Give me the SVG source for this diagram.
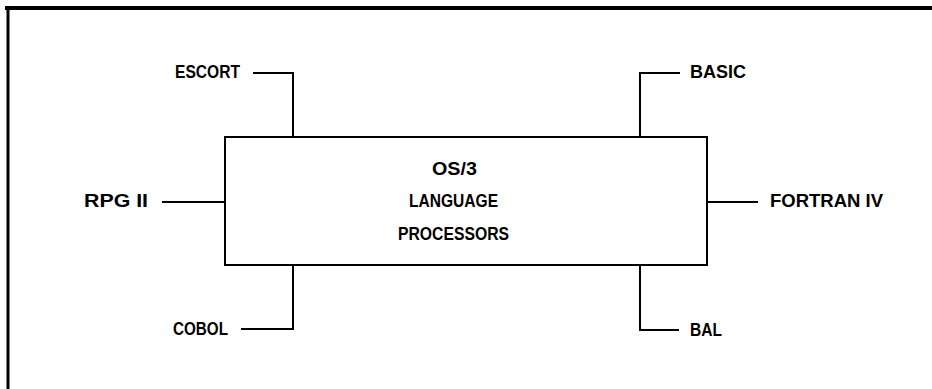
<svg xmlns="http://www.w3.org/2000/svg" width="932" height="389" viewBox="0 0 932 389">
<style>
.t{font-family:"Liberation Sans",Arial,sans-serif;font-weight:bold;font-size:18px;fill:#000}
.ln{stroke:#000;stroke-width:2;fill:none}
</style>
<rect width="932" height="389" fill="#fff"/>
<g id="frame">
<path d="M5 8 H932" stroke="#000" stroke-width="4" fill="none"/>
<path d="M8 6 V389" stroke="#000" stroke-width="3" fill="none"/>
</g>
<g id="connectors">
<path class="ln" d="M253 73 H293 V137"/>
<path class="ln" d="M680 73 H640 V137"/>
<path class="ln" d="M162 202 H225"/>
<path class="ln" d="M707 202 H758"/>
<path class="ln" d="M241 329 H293 V265"/>
<path class="ln" d="M679 330 H640 V265"/>
</g>
<g id="processors">
<rect class="ln" x="225" y="137" width="482" height="128"/>
<text class="t" x="432" y="175" textLength="45" lengthAdjust="spacingAndGlyphs">OS/3</text>
<text class="t" x="409" y="207" textLength="89" lengthAdjust="spacingAndGlyphs">LANGUAGE</text>
<text class="t" x="398" y="240" textLength="111" lengthAdjust="spacingAndGlyphs">PROCESSORS</text>
</g>
<g id="escort"><text class="t" x="175" y="78" textLength="65" lengthAdjust="spacingAndGlyphs">ESCORT</text></g>
<g id="basic"><text class="t" x="690" y="78" textLength="56" lengthAdjust="spacingAndGlyphs">BASIC</text></g>
<g id="rpg2"><text class="t" x="84" y="207" textLength="64" lengthAdjust="spacingAndGlyphs">RPG II</text></g>
<g id="fortran4"><text class="t" x="770" y="207" textLength="113" lengthAdjust="spacingAndGlyphs">FORTRAN IV</text></g>
<g id="cobol"><text class="t" x="173" y="335" textLength="55" lengthAdjust="spacingAndGlyphs">COBOL</text></g>
<g id="bal"><text class="t" x="690" y="336" textLength="32" lengthAdjust="spacingAndGlyphs">BAL</text></g>
</svg>
